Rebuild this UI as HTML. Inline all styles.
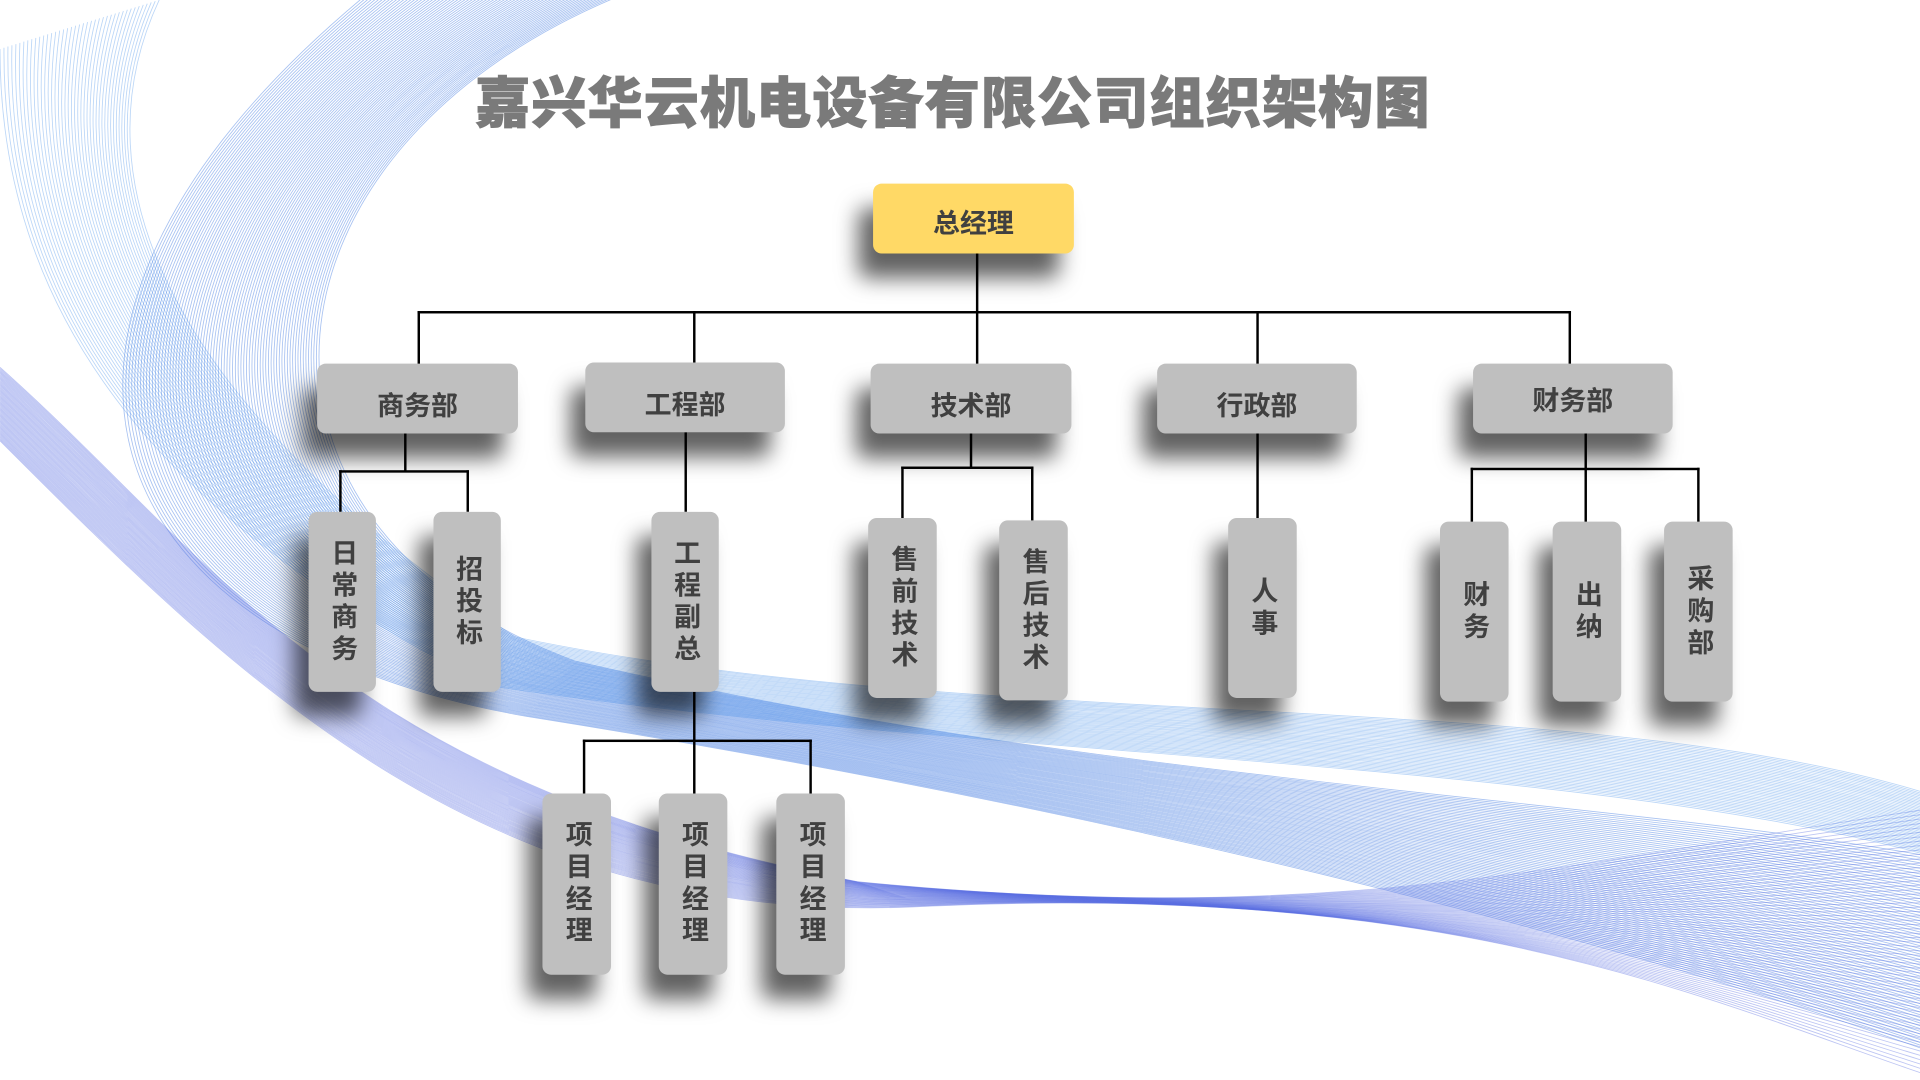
<!DOCTYPE html>
<html><head><meta charset="utf-8">
<style>
html,body{margin:0;padding:0;background:#fff;width:1920px;height:1080px;overflow:hidden}
#s{position:absolute;left:0;top:0;width:1568px;height:882px;transform:scale(1.22449);transform-origin:0 0;font-family:"Liberation Sans","Noto Sans CJK SC",sans-serif}
svg{position:absolute;left:0;top:0}
.t{position:absolute;left:388px;top:48px;width:790px;font-size:45px;font-weight:900;color:#7a7a7a;letter-spacing:0.9px;white-space:nowrap;-webkit-text-stroke:0.8px #7a7a7a}
.b{position:absolute;background:#bfbfbf;border-radius:7px;box-shadow:-12px 20px 18px rgba(0,0,0,.62);color:#404040;font-weight:bold;font-size:22px;display:flex;align-items:center;justify-content:center}
.v{writing-mode:vertical-rl;text-orientation:upright;letter-spacing:4px;font-size:22px}
.y{background:#ffd966}
.l{position:absolute;background:#000}
</style></head><body>
<div id="s">
<svg id="bg" width="1568" height="882" viewBox="0 0 1568 882"></svg>
<div class="t">嘉兴华云机电设备有限公司组织架构图</div>

<div class="l" style="left:797px;top:207px;width:2px;height:48px"></div>
<div class="l" style="left:341px;top:254px;width:942px;height:2px"></div>
<div class="l" style="left:341px;top:254px;width:2px;height:44px"></div>
<div class="l" style="left:566px;top:254px;width:2px;height:44px"></div>
<div class="l" style="left:797px;top:254px;width:2px;height:44px"></div>
<div class="l" style="left:1026px;top:254px;width:2px;height:44px"></div>
<div class="l" style="left:1281px;top:254px;width:2px;height:44px"></div>

<div class="l" style="left:330px;top:354px;width:2px;height:31px"></div>
<div class="l" style="left:277px;top:384px;width:106px;height:2px"></div>
<div class="l" style="left:277px;top:384px;width:2px;height:34px"></div>
<div class="l" style="left:381px;top:384px;width:2px;height:34px"></div>

<div class="l" style="left:559px;top:353px;width:2px;height:65px"></div>

<div class="l" style="left:792px;top:354px;width:2px;height:28px"></div>
<div class="l" style="left:736px;top:381px;width:108px;height:2px"></div>
<div class="l" style="left:736px;top:381px;width:2px;height:43px"></div>
<div class="l" style="left:842px;top:381px;width:2px;height:45px"></div>

<div class="l" style="left:1026px;top:354px;width:2px;height:70px"></div>

<div class="l" style="left:1294px;top:354px;width:2px;height:73px"></div>
<div class="l" style="left:1201px;top:382px;width:187px;height:2px"></div>
<div class="l" style="left:1201px;top:382px;width:2px;height:45px"></div>
<div class="l" style="left:1386px;top:382px;width:2px;height:45px"></div>

<div class="l" style="left:566px;top:565px;width:2px;height:84px"></div>
<div class="l" style="left:476px;top:604px;width:187px;height:2px"></div>
<div class="l" style="left:476px;top:604px;width:2px;height:45px"></div>
<div class="l" style="left:661px;top:604px;width:2px;height:45px"></div>

<div class="b y" style="left:713px;top:150px;width:164px;height:57px;padding-top:4px;box-sizing:border-box">总经理</div>
<div class="b" style="left:259px;top:297px;width:164px;height:57px;padding-top:8px;box-sizing:border-box">商务部</div>
<div class="b" style="left:478px;top:296px;width:163px;height:57px;padding-top:8px;box-sizing:border-box">工程部</div>
<div class="b" style="left:711px;top:297px;width:164px;height:57px;padding-top:8px;box-sizing:border-box">技术部</div>
<div class="b" style="left:945px;top:297px;width:163px;height:57px;padding-top:8px;box-sizing:border-box">行政部</div>
<div class="b" style="left:1203px;top:297px;width:163px;height:57px">财务部</div>

<div class="b" style="left:252px;top:418px;width:55px;height:147px"><span class="v">日常商务</span></div>
<div class="b" style="left:354px;top:418px;width:55px;height:147px"><span class="v">招投标</span></div>
<div class="b" style="left:532px;top:418px;width:55px;height:147px"><span class="v">工程副总</span></div>
<div class="b" style="left:709px;top:423px;width:56px;height:147px"><span class="v">售前技术</span></div>
<div class="b" style="left:816px;top:425px;width:56px;height:147px"><span class="v">售后技术</span></div>
<div class="b" style="left:1003px;top:423px;width:56px;height:147px"><span class="v">人事</span></div>
<div class="b" style="left:1176px;top:426px;width:56px;height:147px"><span class="v">财务</span></div>
<div class="b" style="left:1268px;top:426px;width:56px;height:147px"><span class="v">出纳</span></div>
<div class="b" style="left:1359px;top:426px;width:56px;height:147px"><span class="v">采购部</span></div>
<div class="b" style="left:443px;top:648px;width:56px;height:148px"><span class="v">项目经理</span></div>
<div class="b" style="left:538px;top:648px;width:56px;height:148px"><span class="v">项目经理</span></div>
<div class="b" style="left:634px;top:648px;width:56px;height:148px"><span class="v">项目经理</span></div>
</div>
<script>
(function(){
var svg=document.getElementById('bg'),h='';
function lerp(a,b,t){return a.map(function(v,i){return v+(b[i]-v)*t});}
function band(A,B,n,col,op){
 for(var i=0;i<=n;i++){var t=i/n,p=lerp(A,B,t);
  h+='<path d="M'+p[0]+' '+p[1]+' C'+p[2]+' '+p[3]+' '+p[4]+' '+p[5]+' '+p[6]+' '+p[7]+' C'+p[8]+' '+p[9]+' '+p[10]+' '+p[11]+' '+p[12]+' '+p[13]+'" fill="none" stroke="'+col+'" stroke-opacity="'+op+'" stroke-width="0.7"/>';}
}
band([510,-5, 200,120, 170,430, 470,540, 900,640, 1300,650, 1580,700],
     [300,-5, -20,260, 60,520, 430,585, 900,660, 1300,760, 1580,860],70,'#3f78e0',0.45);
band([0,300, 180,460, 280,640, 700,720, 1100,760, 1300,700, 1580,660],
     [0,360, 200,560, 400,760, 760,740, 1200,720, 1400,820, 1580,880],60,'#5a6fe0',0.4);
band([130,0, 60,150, 140,330, 420,520, 800,600, 1300,560, 1580,650],
     [0,40, 0,250, 120,420, 400,560, 800,620, 1300,620, 1580,700],40,'#3b8ae8',0.35);
svg.innerHTML=h;
})();
</script>
</body></html>
